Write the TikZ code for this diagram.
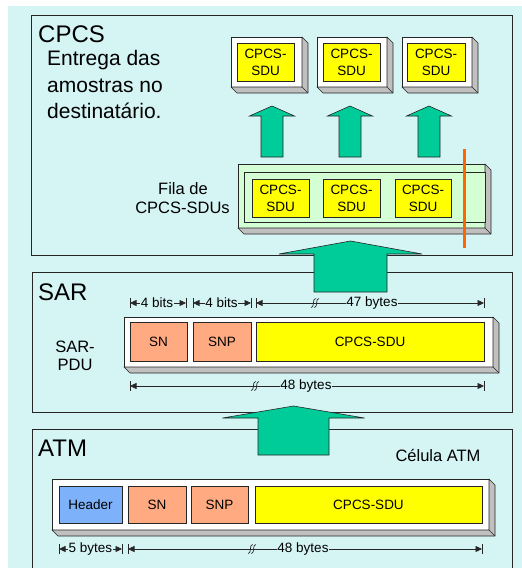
\documentclass[tikz,border=0pt]{standalone}
\usepackage{fontspec}
\setmainfont{Liberation Sans}
\usetikzlibrary{arrows.meta,calc}

\definecolor{panelbg}{RGB}{213,244,244}
\definecolor{flowgreen}{RGB}{0,204,153}
\definecolor{sdufill}{RGB}{255,255,0}
\definecolor{seqfill}{RGB}{255,170,128}
\definecolor{hdrfill}{RGB}{125,178,250}
\definecolor{queuefill}{RGB}{212,255,212}
\definecolor{sidegray}{RGB}{192,192,192}
\definecolor{cutorange}{RGB}{255,102,0}

% rectangular field given by its corners: name, x1, y1, x2, y2, style, text
\newcommand\field[7]{%
  \node[#6, minimum width={(#4-#2)*1pt}, minimum height={(#5-#3)*1pt}]
    (#1) at ({(#2+#4)/2},{(#3+#5)/2}) {#7};}

% grey right and bottom faces that give a slab its depth
\newcommand\extrude[1]{%
  \path[side] (#1.north east) -- ($(#1.north east)+(6,6)$)
    -- ($(#1.south east)+(6,6)$) -- ($(#1.south west)+(6,6)$)
    -- (#1.south west) -- (#1.south east) -- cycle;
  \draw[side] (#1.south east) -- ($(#1.south east)+(6,6)$);}

% upward block arrow: foot, tip, shaft half width, head half width, head length
\newcommand\blockup[5]{%
  \path[flow] let \p1=(#1), \p2=(#2) in
    (\x1-#3pt,\y1) -- (\x1-#3pt,\y2-#5pt) -- (\x1-#4pt,\y2-#5pt) -- (\x1,\y2)
    -- (\x1+#4pt,\y2-#5pt) -- (\x1+#3pt,\y2-#5pt) -- (\x1+#3pt,\y1) -- cycle;}

% dimension line with end bars
\newcommand\measure[2]{%
  \draw[dimarrow] (#1) -- (#2);
  \draw[dimtick] ($(#1)+(0,-5)$) -- ($(#1)+(0,5)$);
  \draw[dimtick] ($(#2)+(0,-5)$) -- ($(#2)+(0,5)$);}

% break mark on a dimension line
\newcommand\breakmark[1]{%
  \foreach \o in {-1.6,1.6}{%
    \draw[dimline, line width=0.7pt] ($(#1)+(\o-2.2,4.5)$) .. controls ($(#1)+(\o+1.4,4.5)$)
      and ($(#1)+(\o-1.4,-4.5)$) .. ($(#1)+(\o+2.2,-4.5)$);}}

\begin{document}
\begin{tikzpicture}[x=1pt,y=-1pt,
  frame/.style={draw=black!85, line width=0.8pt},
  cellbox/.style={draw=black!85, line width=0.6pt, inner sep=0pt, outer sep=0pt},
  slab/.style={cellbox, fill=white},
  sdu/.style={cellbox, fill=sdufill, font=\fontsize{13.5}{17}\selectfont, align=center},
  seq/.style={cellbox, fill=seqfill, font=\fontsize{13.5}{16}\selectfont},
  hdr/.style={cellbox, fill=hdrfill, font=\fontsize{13.5}{16}\selectfont},
  side/.style={fill=sidegray, draw=black!85, line width=0.6pt, line join=round},
  flow/.style={fill=flowgreen, draw=black!85, line width=0.6pt, line join=miter},
  dimline/.style={draw=black!85, line width=0.6pt},
  dimarrow/.style={dimline, {Triangle[length=6.5pt,width=6pt]}-{Triangle[length=6.5pt,width=6pt]}},
  dimtick/.style={dimline, line width=0.9pt},
  dimlabel/.style={fill=panelbg, inner sep=0.8pt, font=\fontsize{13.5}{16}\selectfont},
  title/.style={font=\fontsize{24}{28}\selectfont, anchor=base west, inner sep=0pt},
  note/.style={font=\fontsize{21}{26}\selectfont, anchor=base west, inner sep=0pt},
  caption/.style={font=\fontsize{16.5}{19}\selectfont, anchor=base, inner sep=0pt}]

\useasboundingbox (0,0) rectangle (522,568);
\fill[panelbg] (8,6) rectangle (522,568);

% ---------- layer frames ----------
\draw[frame] (31,15) rectangle (512,255);
\draw[frame] (32,272) rectangle (512,412);
\draw[frame] (32,429) -- (32,570) (512,570) -- (512,429) -- (32,429);

% ---------- CPCS layer ----------
\node[title] (tcpcs) at (38,42) {CPCS};
\node[note] (dl1) at (47,65) {Entrega das};
\node[note] (dl2) at (47,92) {amostras no};
\node[note] (dl3) at (47,118) {destinatário.};

% delivered SDUs
\field{out1}{231}{37}{302}{87}{slab}{}
\field{out2}{317}{37}{387}{87}{slab}{}
\field{out3}{402}{37}{472}{87}{slab}{}
\extrude{out1}\extrude{out2}\extrude{out3}
\field{sduA}{237}{43}{294}{81}{sdu}{CPCS-\\SDU}
\field{sduB}{323}{43}{380}{81}{sdu}{CPCS-\\SDU}
\field{sduC}{407}{43}{465}{81}{sdu}{CPCS-\\SDU}

% queue of SDUs
\field{queue}{238}{164}{485}{228}{cellbox, fill=queuefill}{}
\extrude{queue}
\field{queuein}{244}{172}{485}{222}{cellbox, fill=queuefill}{}
\field{qA}{252}{179}{309}{217}{sdu}{CPCS-\\SDU}
\field{qB}{323}{179}{380}{217}{sdu}{CPCS-\\SDU}
\field{qC}{395}{179}{451}{217}{sdu}{CPCS-\\SDU}
\node[caption] (fila1) at (183,194) {Fila de};
\node[caption] (fila2) at (182.5,213) {CPCS-SDUs};

\coordinate (cutT) at (464,149);
\coordinate (cutB) at (464,248);
\draw[cutorange, line width=3pt] (cutT) -- (cutB);

% ---------- SAR layer ----------
\node[title] (tsar) at (38,300) {SAR};
\node[caption] (pdu1) at (75,352) {SAR-};
\node[caption] (pdu2) at (75,370) {PDU};

\coordinate (s1a) at (130,303); \coordinate (s1b) at (186,303);
\coordinate (s2a) at (193,303); \coordinate (s2b) at (251,303);
\coordinate (s3a) at (256,303); \coordinate (s3b) at (484,303);
\measure{s1a}{s1b}\measure{s2a}{s2b}\measure{s3a}{s3b}
\breakmark{315,303}
\node[dimlabel] (l4a) at (157,303) {4 bits};
\node[dimlabel] (l4b) at (221.5,303) {4 bits};
\node[dimlabel] (l47) at (372,303) {47 bytes};

\field{sarpdu}{124}{317}{493}{367}{slab}{}
\extrude{sarpdu}
\field{sarSN}{130}{322}{187}{361}{seq}{SN}
\field{sarSNP}{193}{322}{251}{361}{seq}{SNP}
\field{sarSDU}{256}{322}{484}{361}{sdu}{CPCS-SDU}

\coordinate (s4a) at (130,386); \coordinate (s4b) at (484,386);
\measure{s4a}{s4b}
\breakmark{255,386}
\node[dimlabel] (l48s) at (306,386) {48 bytes};

% ---------- ATM layer ----------
\node[title] (tatm) at (38,456) {ATM};
\node[caption] (cell) at (438,461) {Célula ATM};

\field{atmcell}{52}{479}{489}{530}{slab}{}
\extrude{atmcell}
\field{atmHdr}{59}{486}{122}{523}{hdr}{Header}
\field{atmSN}{128}{486}{186}{523}{seq}{SN}
\field{atmSNP}{191}{486}{248}{523}{seq}{SNP}
\field{atmSDU}{255}{486}{482}{523}{sdu}{CPCS-SDU}

\coordinate (a1a) at (59,549);  \coordinate (a1b) at (122,549);
\coordinate (a2a) at (128,549); \coordinate (a2b) at (482,549);
\measure{a1a}{a1b}\measure{a2a}{a2b}
\breakmark{252,549}
\node[dimlabel] (l5) at (90.5,549) {5 bytes};
\node[dimlabel] (l48a) at (303,549) {48 bytes};

% ---------- flow arrows ----------
\coordinate (f1) at (272,157); \coordinate (t1) at (272,106);
\coordinate (f2) at (350,157); \coordinate (t2) at (350,106);
\coordinate (f3) at (429,157); \coordinate (t3) at (429,106);
\blockup{f1}{t1}{11}{22.5}{10}
\blockup{f2}{t2}{11}{22.5}{10}
\blockup{f3}{t3}{11}{22.5}{10}

\coordinate (fs) at (350.5,292); \coordinate (ts) at (350.5,241);
\blockup{fs}{ts}{36.5}{71.5}{13}
\coordinate (fa) at (293.5,455); \coordinate (ta) at (293.5,406);
\blockup{fa}{ta}{35.5}{71}{12}

\end{tikzpicture}
\end{document}
